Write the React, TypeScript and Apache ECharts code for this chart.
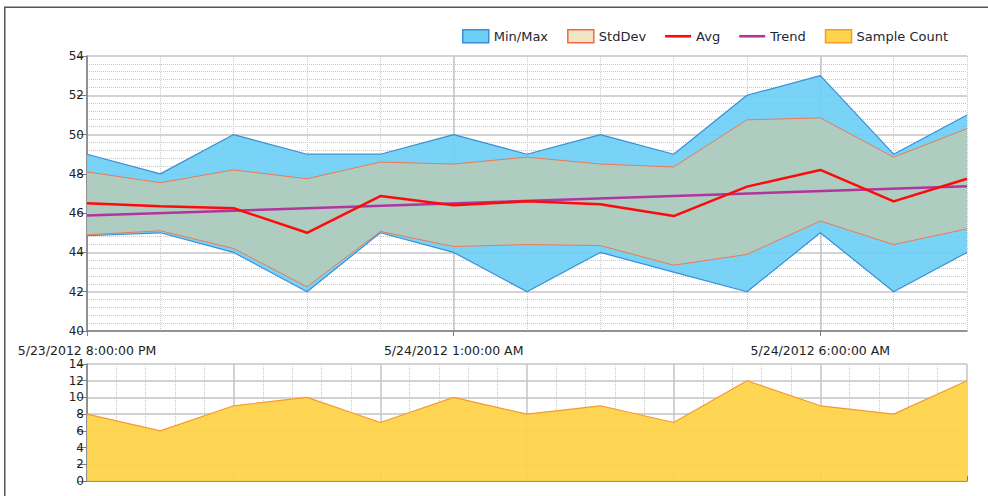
import React, { useEffect, useRef } from "react";
import * as echarts from "echarts";

const categories = [
  "5/23/2012 8:00:00 PM",
  "5/23/2012 9:00:00 PM",
  "5/23/2012 10:00:00 PM",
  "5/23/2012 11:00:00 PM",
  "5/24/2012 12:00:00 AM",
  "5/24/2012 1:00:00 AM",
  "5/24/2012 2:00:00 AM",
  "5/24/2012 3:00:00 AM",
  "5/24/2012 4:00:00 AM",
  "5/24/2012 5:00:00 AM",
  "5/24/2012 6:00:00 AM",
  "5/24/2012 7:00:00 AM",
  "5/24/2012 8:00:00 AM",
];

const minVals = [44.85, 45, 44, 42, 45, 44, 42, 44, 43, 42, 45, 42, 44];
const maxVals = [49, 48, 50, 49, 49, 50, 49, 50, 49, 52, 53, 49, 51];
const stdLow = [44.9, 45.1, 44.2, 42.25, 45.07, 44.3, 44.4, 44.35, 43.35, 43.9, 45.6, 44.4, 45.2];
const stdHigh = [48.1, 47.55, 48.2, 47.75, 48.6, 48.5, 48.85, 48.5, 48.35, 50.75, 50.85, 48.85, 50.3];
const avgVals = [46.5, 46.35, 46.25, 45.0, 46.87, 46.4, 46.6, 46.45, 45.85, 47.35, 48.2, 46.6, 47.75];
const trendVals = [45.88, null, null, null, null, null, null, null, null, null, null, null, 47.37];
const sampleCount = [8, 6, 9, 10, 7, 10, 8, 9, 7, 12, 9, 8, 12];

const topTicks = [40, 54];
const bottomTicks = [0, 14];

const FONT = "DejaVu Sans";
const AXIS = "#7d7d7d";
const GRID = "#c4c4c4";
const MINOR = "#c8c8c8";
const LINE_ICON = "path://M0,0H26V2.6H0Z";

export default function App() {
  const ref = useRef<HTMLDivElement>(null);
  useEffect(() => {
    if (!ref.current) return;
    const chart = echarts.init(ref.current, null, { renderer: "svg" });
    const option = {
      animation: false,
      backgroundColor: "#ffffff",
      textStyle: { fontFamily: FONT },
      graphic: [
        {
          type: "rect",
          shape: { x: 4.75, y: 7.25, width: 1000, height: 500 },
          style: { fill: "none", stroke: "#555555", lineWidth: 1.5 },
          silent: true,
        },
      ],
      legend: {
        right: 35,
        top: 24,
        itemWidth: 26,
        itemHeight: 13,
        itemGap: 19,
        symbolKeepAspect: true,
        textStyle: { fontFamily: FONT, fontSize: 13, color: "#1e2636" },
        data: [
          { name: "Min/Max", icon: "rect", itemStyle: { color: "#6ccff6", borderColor: "#3a8ed6", borderWidth: 1.5 } },
          { name: "StdDev", icon: "rect", itemStyle: { color: "#efe4c4", borderColor: "#f06a3e", borderWidth: 1.5 } },
          { name: "Avg", icon: LINE_ICON, itemStyle: { color: "#ff0a0a", borderWidth: 0 } },
          { name: "Trend", icon: LINE_ICON, itemStyle: { color: "#b0359f", borderWidth: 0 } },
          { name: "Sample Count", icon: "rect", itemStyle: { color: "#ffd44a", borderColor: "#f59a30", borderWidth: 1.5 } },
        ],
      },
      grid: [
        { left: 87, top: 56, right: 21, height: 275 },
        { left: 87, top: 364, right: 21, height: 117 },
      ],
      xAxis: [
        {
          type: "category",
          gridIndex: 0,
          data: categories,
          boundaryGap: false,
          axisLine: { lineStyle: { color: AXIS, width: 1.5 } },
          axisTick: { show: true, interval: 4, length: 5, lineStyle: { color: AXIS } },
          axisLabel: { interval: 4, margin: 13, fontSize: 12.5, color: "#222", fontFamily: FONT },
          splitLine: { show: true, interval: 0, lineStyle: { color: MINOR, type: "dotted", width: 1 } },
        },
        {
          type: "category",
          gridIndex: 0,
          data: categories,
          boundaryGap: false,
          position: "bottom",
          axisLine: { show: false },
          axisTick: { show: false },
          axisLabel: { show: false },
          splitLine: { show: true, interval: 4, lineStyle: { color: GRID, width: 1.5 } },
        },
        {
          type: "value",
          gridIndex: 1,
          position: "top",
          min: 0,
          max: categories.length - 1,
          interval: 2,
          axisLine: { lineStyle: { color: AXIS, width: 1.5 } },
          axisTick: { show: true, length: 5, lineStyle: { color: AXIS } },
          axisLabel: { show: false },
          splitLine: { show: true, lineStyle: { color: GRID, width: 1.5 } },
          minorTick: { show: false, splitNumber: 5 },
          minorSplitLine: { show: true, lineStyle: { color: MINOR, type: "dotted", width: 1 } },
        },
      ],
      yAxis: [
        {
          type: "value",
          gridIndex: 0,
          min: topTicks[0],
          max: topTicks[1],
          interval: 2,
          axisLine: { show: true, lineStyle: { color: AXIS, width: 1.5 } },
          axisTick: { show: true, length: 10, lineStyle: { color: AXIS } },
          axisLabel: { margin: 3, fontSize: 12, color: "#222", fontFamily: FONT },
          splitLine: { show: true, lineStyle: { color: GRID, width: 1.5 } },
          minorTick: { show: false, splitNumber: 5 },
          minorSplitLine: { show: true, lineStyle: { color: MINOR, type: "dotted", width: 1 } },
        },
        {
          type: "value",
          gridIndex: 1,
          min: bottomTicks[0],
          max: bottomTicks[1],
          interval: 2,
          axisLine: { show: true, lineStyle: { color: AXIS, width: 1.5 } },
          axisTick: { show: true, length: 10, lineStyle: { color: AXIS } },
          axisLabel: { margin: 3, fontSize: 12, color: "#222", fontFamily: FONT },
          splitLine: { show: true, lineStyle: { color: GRID, width: 1.5 } },
        },
      ],
      series: [
        {
          name: "Min/Max",
          type: "line",
          xAxisIndex: 0,
          yAxisIndex: 0,
          stack: "mm",
          data: minVals,
          symbol: "none",
          lineStyle: { color: "#3a8ed6", width: 1.2 },
          itemStyle: { color: "#6ccff6" },
          z: 2,
        },
        {
          name: "Min/Max",
          type: "line",
          xAxisIndex: 0,
          yAxisIndex: 0,
          stack: "mm",
          data: maxVals.map((v, i) => v - minVals[i]),
          symbol: "none",
          lineStyle: { color: "#3a8ed6", width: 1.2 },
          itemStyle: { color: "#6ccff6" },
          areaStyle: { color: "#6ccff6", opacity: 0.92 },
          z: 2,
        },
        {
          name: "StdDev",
          type: "line",
          xAxisIndex: 0,
          yAxisIndex: 0,
          stack: "sd",
          data: stdLow,
          symbol: "none",
          lineStyle: { color: "#f07850", width: 1 },
          itemStyle: { color: "#efe4c4" },
          z: 3,
        },
        {
          name: "StdDev",
          type: "line",
          xAxisIndex: 0,
          yAxisIndex: 0,
          stack: "sd",
          data: stdHigh.map((v, i) => v - stdLow[i]),
          symbol: "none",
          lineStyle: { color: "#f07850", width: 1 },
          itemStyle: { color: "#efe4c4" },
          areaStyle: { color: "#b3cbbb", opacity: 0.93 },
          z: 3,
        },
        {
          name: "Avg",
          type: "line",
          xAxisIndex: 0,
          yAxisIndex: 0,
          data: avgVals,
          symbol: "none",
          lineStyle: { color: "#ff0a0a", width: 2.5 },
          itemStyle: { color: "#ff0a0a" },
          z: 5,
        },
        {
          name: "Trend",
          type: "line",
          xAxisIndex: 0,
          yAxisIndex: 0,
          data: trendVals,
          connectNulls: true,
          symbol: "none",
          lineStyle: { color: "#b0359f", width: 2.5 },
          itemStyle: { color: "#b0359f" },
          z: 4,
        },
        {
          name: "Sample Count",
          type: "line",
          xAxisIndex: 2,
          yAxisIndex: 1,
          data: sampleCount.map((v, i) => [i, v]),
          symbol: "none",
          lineStyle: { color: "#f59a30", width: 1.2 },
          itemStyle: { color: "#ffd44a" },
          areaStyle: { color: "#ffd44a", opacity: 0.95 },
        },
      ],
    };
    chart.setOption(option as any);
    return () => chart.dispose();
  }, []);
  return (
    <div
      ref={ref}
      style={{ position: "fixed", left: 0, top: 0, width: 988, height: 496 }}
    />
  );
}
